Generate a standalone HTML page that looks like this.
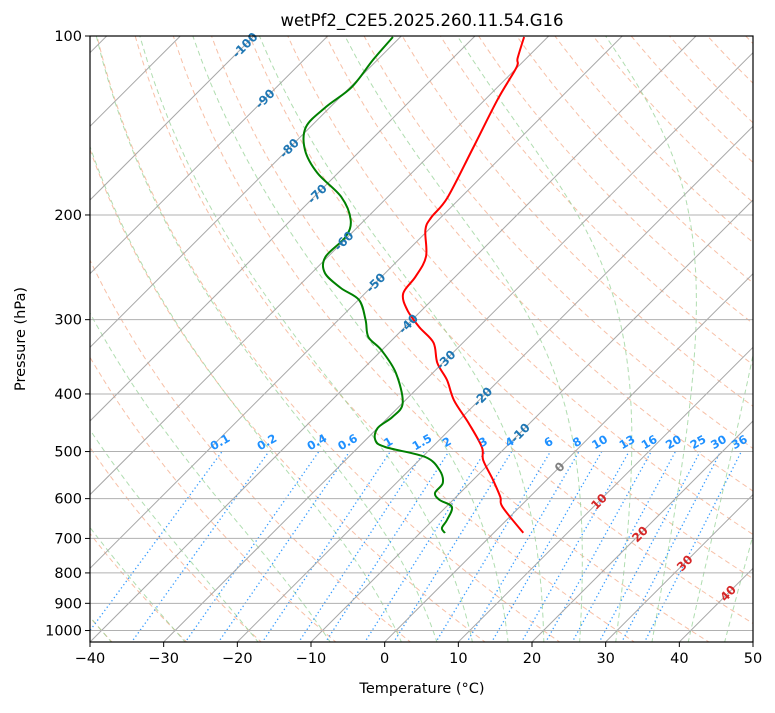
<!DOCTYPE html>
<html><head><meta charset="utf-8"><style>
body{margin:0;background:#fff;font-family:"Liberation Sans","DejaVu Sans",sans-serif;}
svg text{font-family:"DejaVu Sans","Liberation Sans",sans-serif;}
</style></head><body>
<svg id="chart" width="775" height="708" xmlns="http://www.w3.org/2000/svg">
<defs><clipPath id="clip"><rect x="90" y="36" width="663" height="606"/></clipPath></defs>
<rect width="775" height="708" fill="#fff"/>
<g id="plot" clip-path="url(#clip)"></g>
<g id="axes"></g>
<text x="422" y="26" font-size="16.5" text-anchor="middle">wetPf2_C2E5.2025.260.11.54.G16</text>
<text x="422" y="693" font-size="14.5" text-anchor="middle">Temperature (°C)</text>
<text x="25" y="339" font-size="14.5" text-anchor="middle" transform="rotate(-90 25 339)">Pressure (hPa)</text>
</svg>
<script>
const tempP=[685,620,596,558,517,491,448,410,379,355,328,309,289,271,254,235,212,202,187,154,128,113,109,100.4];
const tempT=[4.0,-2.3,-4.0,-7.3,-11.3,-13.3,-18.3,-23.4,-27.1,-30.7,-34.0,-38.0,-42.0,-44.8,-45.4,-46.7,-50.4,-51.3,-51.8,-55.1,-58.3,-60.1,-61.2,-63.2];
const dewP=[685.5,672.3,651.8,619.8,603.2,587,564.7,537.1,510.7,491.3,478.1,456.4,437.3,414.2,368.8,337.4,320.9,300.4,278,265.4,250.4,235.4,217.8,203.9,186.5,170,155.5,142.2,131.6,121.8,109.7,100.4];
const dewT=[-6.6,-7.7,-8.1,-9.2,-11.8,-13.4,-13.7,-15.9,-19.6,-26.4,-28.7,-30.0,-29.5,-30.0,-35.0,-40.1,-43.6,-46.3,-49.9,-54.0,-58.2,-60.3,-60.3,-61.9,-66.3,-72.8,-77.6,-80.6,-80.6,-79.8,-80.6,-81.0];
const pTicks=[100,200,300,400,500,600,700,800,900,1000];
const tTicks=[-40,-30,-20,-10,0,10,20,30,40,50];
const mixRatios=[0.1,0.2,0.4,0.6,1,1.5,2,3,4,6,8,10,13,16,20,25,30,36];
const dryT0=[-40,-30,-20,-10,0,10,20,30,40,50,60,70,80,90,100,110,120,130,140,150,160,170,180,190,200];
const moistT0=[-50,-40,-30,-20,-10,0,5,10,15,20,25,30,35,40,45];
const isoLabelT=[-100,-90,-80,-70,-60,-50,-40,-30,-20,-10,0,10,20,30,40];
const isoLabelP=[104,128,155,185,222,261,306,352,406,467,533,609,691,773,869];

const X0=90,X1=753,Y0=36,Y1=642,K=258.2,PX=663/90;
const yP=p=>Y0+K*Math.log(p/100);
const xT=(T,p)=>X0+(T+40)*PX+(Y1-yP(p));
const NS='http://www.w3.org/2000/svg';
const plot=document.getElementById('plot'),axes=document.getElementById('axes');
function mk(tag,at,parent){const e=document.createElementNS(NS,tag);for(const k in at)e.setAttribute(k,at[k]);parent.appendChild(e);return e;}
function pathFrom(ps,ts){return ps.map((p,i)=>(i?'L':'M')+xT(ts[i],p).toFixed(1)+' '+yP(p).toFixed(1)).join('');}
function smoothFrom(ps,ts){const pt=ps.map((p,i)=>[xT(ts[i],p),yP(p)]);let d='M'+pt[0][0].toFixed(1)+' '+pt[0][1].toFixed(1);
for(let i=0;i<pt.length-1;i++){const a=pt[Math.max(0,i-1)],b=pt[i],c=pt[i+1],n=pt[Math.min(pt.length-1,i+2)];
const c1=[b[0]+(c[0]-a[0])/6,b[1]+(c[1]-a[1])/6],c2=[c[0]-(n[0]-b[0])/6,c[1]-(n[1]-b[1])/6];
d+=`C${c1[0].toFixed(1)} ${c1[1].toFixed(1)} ${c2[0].toFixed(1)} ${c2[1].toFixed(1)} ${c[0].toFixed(1)} ${c[1].toFixed(1)}`;}return d;}
const pmax=1050,pmin=100,N=60;
const pres=[];for(let i=0;i<=N;i++)pres.push(pmax*Math.pow(pmin/pmax,i/N));

for(const t0 of dryT0){const th=t0+273.15;const ts=pres.map(p=>th*Math.pow(p/1000,0.2857)-273.15);
const e=mk('path',{d:pathFrom(pres,ts),fill:'none',stroke:'#f4a582','stroke-width':1,'stroke-dasharray':'5,3.5',opacity:0.7},plot);
}
function es(T){const c=T-273.15;return 6.112*Math.exp(17.67*c/(c+243.5));}
function dTdp(p,T){const e=es(T);const rs=0.622*e/(p-e);const Lv=2.501e6,Rd=287.04,Cp=1005.7;
return (Rd*T+Lv*rs)/(p*(Cp+Lv*Lv*rs*0.622/(Rd*T*T)));}
function integ(T0,pa,pb,n){const out=[];let T=T0,p=pa;const h=(pb-pa)/n;out.push([p,T]);
for(let i=0;i<n;i++){const k1=dTdp(p,T),k2=dTdp(p+h/2,T+h*k1/2),k3=dTdp(p+h/2,T+h*k2/2),k4=dTdp(p+h,T+h*k3);T+=h*(k1+2*k2+2*k3+k4)/6;p+=h;out.push([p,T]);}return out;}
for(const t0 of moistT0){const up=integ(t0+273.15,1000,100,90),dn=integ(t0+273.15,1000,1050,5);
const pts=dn.reverse().concat(up.slice(1));
const e=mk('path',{d:pathFrom(pts.map(a=>a[0]),pts.map(a=>a[1]-273.15)),fill:'none',stroke:'#8fcf8f','stroke-width':1,'stroke-dasharray':'5,3.5',opacity:0.7},plot);
}
function tdFromW(w,p){const e=w/1000*p/(0.622+w/1000);const l=Math.log(e/6.112);return 243.5*l/(17.67-l);}
for(const w of mixRatios){const ps=[1050,500];
const e=mk('path',{d:pathFrom(ps,ps.map(p=>tdFromW(w,p))),fill:'none',stroke:'#1e90ff','stroke-width':1.3,'stroke-dasharray':'1.3,2.7',opacity:0.9},plot);

const lx=xT(tdFromW(w,500),500),ly=yP(500)-6;
const t=mk('text',{x:lx,y:ly,'font-size':11.5,'font-weight':'bold',fill:'#1e90ff','text-anchor':'middle',transform:`rotate(-30 ${lx} ${ly})`},axes);t.textContent=String(w);
}
for(let T=-160;T<=50;T+=10){const ps=[1050,100];
const e=mk('path',{d:pathFrom(ps,[T,T]),stroke:'#a8a8a8','stroke-width':1},plot);
}
for(const p of pTicks){const y=yP(p);const e=mk('line',{x1:X0,x2:X1,y1:y,y2:y,stroke:'#b0b0b0','stroke-width':1},plot);
}
let e=mk('path',{d:smoothFrom(tempP,tempT),fill:'none',stroke:'#ff0000','stroke-width':2,'stroke-linejoin':'round'},plot);

e=mk('path',{d:smoothFrom(dewP,dewT),fill:'none',stroke:'#008000','stroke-width':2,'stroke-linejoin':'round'},plot);

isoLabelT.forEach((T,i)=>{const p=isoLabelP[i];const x=xT(T,p)+4,y=yP(p)+2;
const c=T<0?'#1f77b4':(T===0?'#808080':'#d62728');
const t=mk('text',{x:x,y:y,'font-size':12,'font-weight':'bold',fill:c,'text-anchor':'middle',transform:`rotate(-45 ${x} ${y})`},axes);
t.textContent=(T<0?'-':'')+Math.abs(T);
});
e=mk('rect',{x:X0,y:Y0,width:X1-X0,height:Y1-Y0,fill:'none',stroke:'#000','stroke-width':1.2},axes);

for(const T of tTicks){const x=X0+(T+40)*PX;
mk('line',{x1:x,x2:x,y1:Y1,y2:Y1+5,stroke:'#000'},axes);
const t=mk('text',{x:x,y:Y1+21,'font-size':14.5,'text-anchor':'middle'},axes);t.textContent=(T<0?'\u2212':'')+Math.abs(T);
}
for(const p of pTicks){const y=yP(p);
mk('line',{x1:X0-5,x2:X0,y1:y,y2:y,stroke:'#000'},axes);
const t=mk('text',{x:X0-8,y:y+5,'font-size':14.5,'text-anchor':'end'},axes);t.textContent=p;
}
</script>
</body></html>
